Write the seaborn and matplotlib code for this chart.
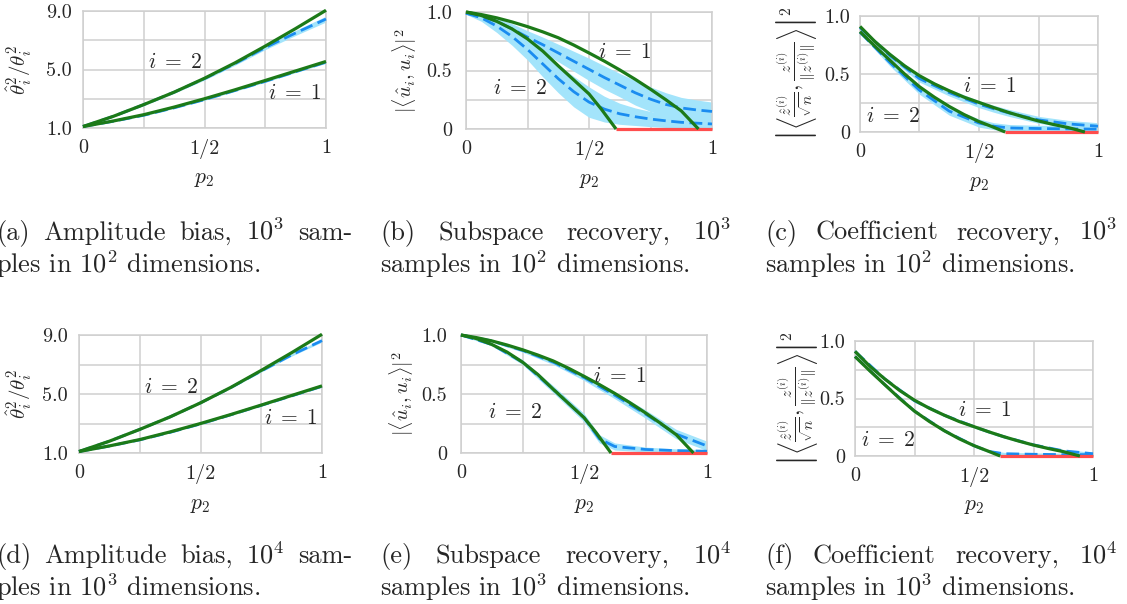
import matplotlib
matplotlib.use("Agg")
import matplotlib.pyplot as plt
import numpy as np
import pandas as pd
import seaborn as sns

# ------------------------------------------------------------------ data
# amplitude bias, theory (same for both sample sizes)
p_amp = [0, .125, .25, .375, .5, .625, .75, .875, 1.0]
amp_theory_1 = [1.1, 1.48, 1.91, 2.43, 3.0, 3.61, 4.25, 4.9, 5.55]
amp_theory_2 = [1.1, 1.8, 2.6, 3.45, 4.4, 5.45, 6.6, 7.8, 9.05]

# subspace recovery, theory
p_sub_1 = [0, .0625, .125, .1875, .25, .3125, .375, .4375, .5, .5625, .625,
           .6875, .75, .8125, .875, .945]
sub_theory_1 = [1.0, 0.978, 0.95, 0.915, 0.875, 0.83, 0.78, 0.718, 0.65,
                0.58, 0.505, 0.425, 0.34, 0.25, 0.155, 0.0]
p_sub_2 = [0, .0625, .125, .1875, .25, .3125, .375, .4375, .5, .55, .61]
sub_theory_2 = [1.0, 0.97, 0.92, 0.855, 0.77, 0.665, 0.54, 0.42, 0.30, 0.17, 0.0]

# coefficient recovery, theory
p_coef_1 = [0, .0625, .125, .1875, .25, .3125, .375, .4375, .5, .5625, .625,
            .6875, .75, .8125, .875, .945]
coef_theory_1 = [0.91, 0.78, 0.67, 0.57, 0.485, 0.415, 0.355, 0.30, 0.255,
                 0.21, 0.168, 0.13, 0.095, 0.065, 0.038, 0.0]
p_coef_2 = [0, .0625, .125, .1875, .25, .3125, .375, .4375, .5, .5625, .61]
coef_theory_2 = [0.865, 0.74, 0.62, 0.5, 0.39, 0.3, 0.22, 0.15, 0.09, 0.04, 0.0]

# past the threshold the second component is lost
p_lost = [0.61, 1.0]
lost = [0.0, 0.0]

# empirical means and spreads
p_emp = [0, .125, .25, .375, .5, .5625, .625, .75, .875, 1.0]
p_emp_fine = [0, .0625, .125, .1875, .25, .3125, .375, .4375, .5, .5625, .625,
              .6875, .75, .8125, .875, .9375, 1.0]

amp_mean_1_small = [1.1, 1.46, 1.87, 2.38, 2.94, 3.25, 3.56, 4.19, 4.85, 5.5]
amp_mean_2_small = [1.1, 1.8, 2.6, 3.45, 4.38, 4.88, 5.4, 6.5, 7.5, 8.45]
amp_sd_1_small = [0.02, 0.03, 0.04, 0.04, 0.05, 0.05, 0.05, 0.06, 0.06, 0.07]
amp_sd_2_small = [0.03, 0.05, 0.07, 0.08, 0.1, 0.1, 0.11, 0.14, 0.17, 0.2]

amp_mean_1_large = [1.1, 1.47, 1.89, 2.4, 2.97, 3.28, 3.59, 4.23, 4.87, 5.52]
amp_mean_2_large = [1.1, 1.8, 2.6, 3.45, 4.4, 4.92, 5.44, 6.56, 7.65, 8.62]
amp_sd_1_large = [0.01, 0.02, 0.02, 0.02, 0.03, 0.03, 0.03, 0.03, 0.03, 0.04]
amp_sd_2_large = [0.02, 0.03, 0.04, 0.05, 0.05, 0.05, 0.06, 0.07, 0.08, 0.1]

sub_mean_1_small = [0.99, 0.965, 0.92, 0.855, 0.785, 0.72, 0.65, 0.58, 0.51,
                    0.44, 0.375, 0.31, 0.255, 0.21, 0.18, 0.163, 0.15]
sub_mean_2_small = [0.99, 0.95, 0.88, 0.79, 0.68, 0.555, 0.43, 0.32, 0.23,
                    0.17, 0.13, 0.105, 0.085, 0.07, 0.057, 0.05, 0.043]
sub_sd_1_small = [0.01, 0.02, 0.03, 0.045, 0.055, 0.065, 0.075, 0.085, 0.095,
                  0.1, 0.1, 0.105, 0.105, 0.1, 0.09, 0.085, 0.08]
sub_sd_2_small = [0.01, 0.03, 0.055, 0.075, 0.09, 0.11, 0.12, 0.13, 0.13,
                  0.11, 0.09, 0.075, 0.065, 0.057, 0.05, 0.045, 0.04]

sub_mean_1_large = [1.0, 0.95, 0.87, 0.77, 0.64, 0.565, 0.49, 0.33, 0.16, 0.06]
sub_mean_2_large = [1.0, 0.92, 0.77, 0.54, 0.3, 0.12, 0.055, 0.03, 0.02, 0.015]
sub_sd_1_large = [0.005, 0.01, 0.015, 0.02, 0.025, 0.028, 0.03, 0.035, 0.04, 0.04]
sub_sd_2_large = [0.005, 0.012, 0.02, 0.03, 0.035, 0.035, 0.03, 0.02, 0.015, 0.012]

coef_mean_1_small = [0.9, 0.66, 0.46, 0.34, 0.24, 0.2, 0.165, 0.105, 0.07, 0.05]
coef_mean_2_small = [0.86, 0.6, 0.36, 0.18, 0.077, 0.05, 0.035, 0.03, 0.027, 0.025]
coef_sd_1_small = [0.01, 0.025, 0.03, 0.03, 0.03, 0.03, 0.03, 0.03, 0.03, 0.03]
coef_sd_2_small = [0.01, 0.03, 0.035, 0.035, 0.035, 0.03, 0.03, 0.028, 0.028, 0.025]

coef_mean_1_large = [0.91, 0.67, 0.48, 0.355, 0.255, 0.21, 0.168, 0.097, 0.045, 0.02]
coef_mean_2_large = [0.865, 0.62, 0.39, 0.22, 0.09, 0.04, 0.02, 0.015, 0.012, 0.012]
coef_sd_1_large = [0.005, 0.01, 0.012, 0.012, 0.012, 0.012, 0.012, 0.012, 0.012, 0.012]
coef_sd_2_large = [0.005, 0.012, 0.012, 0.012, 0.012, 0.012, 0.012, 0.012, 0.012, 0.012]

x_ticks = [0, 0.5, 1]
x_ticklabels = ["0", "1/2", "1"]
amp_ticks = [1, 5, 9]
amp_ticklabels = ["1.0", "5.0", "9.0"]
unit_ticks = [0, 0.5, 1]
unit_ticklabels = ["0", "0.5", "1.0"]

# ------------------------------------------------------------------ style
sns.set_style("white")
plt.rcParams["font.family"] = "serif"
plt.rcParams["font.serif"] = ["cmr10", "DejaVu Serif"]
plt.rcParams["mathtext.fontset"] = "cm"
plt.rcParams["axes.unicode_minus"] = False
plt.rcParams["axes.formatter.use_mathtext"] = True

GREEN = "#1c7a18"
BLUE = "#1a8cf0"
BAND = "#a3e4fb"
RED = "#ff4d4d"
GRID = "#cfcfcf"
TICK_FS = 14.5
LABEL_FS = 14.5
NOTE_FS = 15.5
CAP_FS = 19

W, H = 1127, 604
fig = plt.figure(figsize=(W / 100, H / 100), dpi=100)


def axes_px(x0, y0, x1, y1):
    return fig.add_axes([x0 / W, 1 - y1 / H, (x1 - x0) / W, (y1 - y0) / H])


def band(ax, p, mean, sd, floor=None):
    m = np.asarray(mean)
    s = np.asarray(sd)
    lo = m - s
    if floor is not None:
        lo = np.maximum(lo, floor)
    ax.fill_between(p, lo, m + s, color=BAND, lw=0, zorder=2)


def dashed(ax, p, v):
    df = pd.DataFrame({"p2": p, "v": v})
    sns.lineplot(data=df, x="p2", y="v", ax=ax, color=BLUE, lw=2.0,
                 sort=False, zorder=3)
    ln = ax.lines[-1]
    ln.set_dashes([4.6, 2.0])
    ln.set_clip_on(False)


def solid(ax, p, v, color=GREEN, z=4):
    df = pd.DataFrame({"p2": p, "v": v})
    sns.lineplot(data=df, x="p2", y="v", ax=ax, color=color, lw=2.3,
                 sort=False, zorder=z)
    ax.lines[-1].set_clip_on(False)
    ax.lines[-1].set_solid_capstyle("butt")
    ax.lines[-1].set_solid_joinstyle("round")


def style(ax, yticks, yticklabels, ylabel, ylab_x, ypad, ylab_fs):
    ax.set_xlim(0, 1)
    ax.set_ylim(yticks[0], yticks[-1])
    ax.set_xticks(x_ticks)
    ax.set_xticklabels(x_ticklabels)
    ax.set_xticks([0.25, 0.75], minor=True)
    ax.set_yticks(yticks)
    ax.set_yticklabels(yticklabels)
    ax.set_yticks([(yticks[0] + yticks[1]) / 2, (yticks[1] + yticks[2]) / 2],
                  minor=True)
    ax.grid(True, which="both", color=GRID, lw=1.1, zorder=0)
    ax.set_axisbelow(True)
    ax.tick_params(which="both", length=0, labelsize=TICK_FS)
    ax.tick_params(axis="x", pad=8)
    ax.tick_params(axis="y", pad=ypad)
    for s in ax.spines.values():
        s.set_color(GRID)
        s.set_linewidth(1.1)
    ax.set_xlabel(r"$p_2$", fontsize=LABEL_FS + 1, va="center")
    ax.xaxis.set_label_coords(0.5, -0.44)
    ax.set_ylabel(ylabel, fontsize=ylab_fs, va="center")
    ax.yaxis.set_label_coords(ylab_x, 0.5)


AMP_LABEL = r"$\hat{\theta}_i^2/\theta_i^2$"
SUB_LABEL = r"$|\langle \hat{u}_i, u_i\rangle|^2$"
COEF_LABEL = (r"$\left|\left\langle \frac{\hat{z}^{(i)}}{\sqrt{n}},"
              r" \frac{z^{(i)}}{\|z^{(i)}\|}\right\rangle\right|^2$")
NOTE_1 = r"$i \;=\; 1$"
NOTE_2 = r"$i \;=\; 2$"


def note(ax, x, y, s):
    ax.text(x, y, s, fontsize=NOTE_FS, ha="center", va="center", zorder=6)


def amp_panel(ax, m1, s1, m2, s2, ylab_x):
    band(ax, p_emp, m1, s1)
    band(ax, p_emp, m2, s2)
    dashed(ax, p_emp, m1)
    dashed(ax, p_emp, m2)
    solid(ax, p_amp, amp_theory_1)
    solid(ax, p_amp, amp_theory_2)
    style(ax, amp_ticks, amp_ticklabels, AMP_LABEL, ylab_x, 8, LABEL_FS + 0.5)
    note(ax, 0.38, 5.5, NOTE_2)
    note(ax, 0.87, 3.4, NOTE_1)


def sub_panel(ax, p, m1, s1, m2, s2, ylab_x):
    band(ax, p, m1, s1, floor=0)
    band(ax, p, m2, s2, floor=0)
    dashed(ax, p, m1)
    dashed(ax, p, m2)
    solid(ax, p_lost, lost, color=RED, z=4)
    solid(ax, p_sub_1, sub_theory_1, z=5)
    solid(ax, p_sub_2, sub_theory_2, z=5)
    style(ax, unit_ticks, unit_ticklabels, SUB_LABEL, ylab_x, 10, LABEL_FS)
    note(ax, 0.645, 0.655, NOTE_1)
    note(ax, 0.22, 0.35, NOTE_2)


def coef_panel(ax, m1, s1, m2, s2, ylab_x):
    band(ax, p_emp, m1, s1, floor=0)
    band(ax, p_emp, m2, s2, floor=0)
    dashed(ax, p_emp, m1)
    dashed(ax, p_emp, m2)
    solid(ax, p_lost, lost, color=RED, z=4)
    solid(ax, p_coef_1, coef_theory_1, z=5)
    solid(ax, p_coef_2, coef_theory_2, z=5)
    style(ax, unit_ticks, unit_ticklabels, COEF_LABEL, ylab_x, 7, LABEL_FS + 1.5)
    note(ax, 0.546, 0.40, NOTE_1)
    note(ax, 0.14, 0.135, NOTE_2)


ax_a = axes_px(83, 11, 326, 128)
ax_b = axes_px(466, 12, 712, 129)
ax_c = axes_px(860, 16, 1098, 132)
ax_d = axes_px(79, 335, 322, 453)
ax_e = axes_px(461, 335, 707, 453)
ax_f = axes_px(855, 341, 1093, 456)

amp_panel(ax_a, amp_mean_1_small, amp_sd_1_small, amp_mean_2_small, amp_sd_2_small, -0.26)
sub_panel(ax_b, p_emp_fine, sub_mean_1_small, sub_sd_1_small,
          sub_mean_2_small, sub_sd_2_small, -0.248)
coef_panel(ax_c, coef_mean_1_small, coef_sd_1_small, coef_mean_2_small, coef_sd_2_small, -0.265)
amp_panel(ax_d, amp_mean_1_large, amp_sd_1_large, amp_mean_2_large, amp_sd_2_large, -0.243)
sub_panel(ax_e, p_emp, sub_mean_1_large, sub_sd_1_large,
          sub_mean_2_large, sub_sd_2_large, -0.24)
coef_panel(ax_f, coef_mean_1_large, coef_sd_1_large, coef_mean_2_large, coef_sd_2_large, -0.24)

# ------------------------------------------------------------------ captions
renderer = fig.canvas.get_renderer()


def justified(words, x0, x1, y):
    texts = [fig.text(0, 1 - y / H, w, fontsize=CAP_FS, ha="left", va="baseline")
             for w in words]
    widths = [t.get_window_extent(renderer).width for t in texts]
    gap = (x1 - x0 - sum(widths)) / (len(words) - 1)
    x = x0
    for t, w in zip(texts, widths):
        t.set_x(x / W)
        x += w + gap


def plain(text, x0, y):
    fig.text(x0 / W, 1 - y / H, text, fontsize=CAP_FS, ha="left", va="baseline")


captions = [
    (["(a)", "Amplitude", "bias,", "$10^3$", "sam-"], "ples in $10^2$ dimensions.", -4, 352, 240),
    (["(b)", "Subspace", "recovery,", "$10^3$"], "samples in $10^2$ dimensions.", 380, 731, 240),
    (["(c)", "Coefficient", "recovery,", "$10^3$"], "samples in $10^2$ dimensions.", 765, 1117, 240),
    (["(d)", "Amplitude", "bias,", "$10^4$", "sam-"], "ples in $10^3$ dimensions.", -4, 352, 563),
    (["(e)", "Subspace", "recovery,", "$10^4$"], "samples in $10^3$ dimensions.", 380, 731, 563),
    (["(f)", "Coefficient", "recovery,", "$10^4$"], "samples in $10^3$ dimensions.", 765, 1117, 563),
]
for words, second, x0, x1, y in captions:
    justified(words, x0, x1, y)
    plain(second, x0, y + 33)

fig.savefig("out.png", dpi=100)
